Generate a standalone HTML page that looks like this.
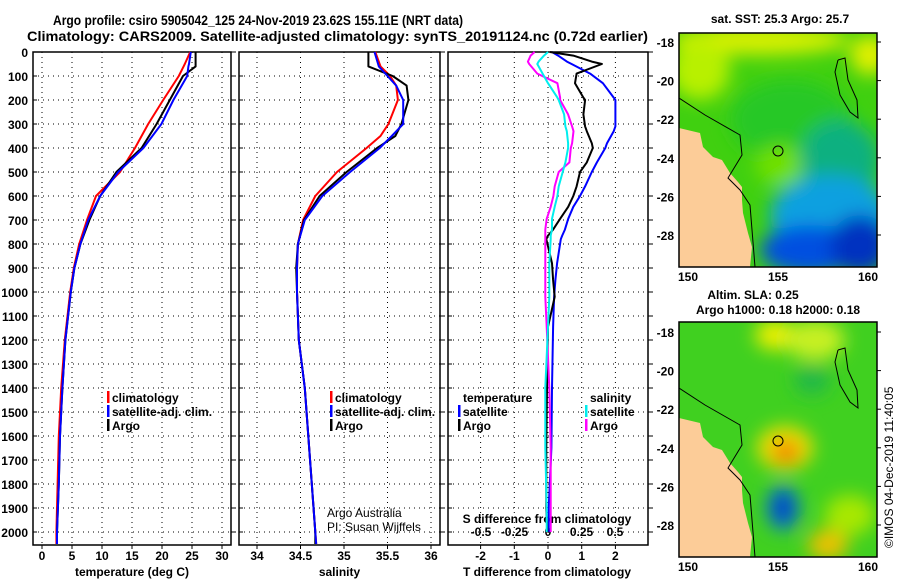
<!DOCTYPE html>
<html><head><meta charset="utf-8">
<style>
body{margin:0;background:#fff;}
svg{display:block;font-family:"Liberation Sans",sans-serif;}
.t{font-weight:bold;font-size:14px;}
.tk{font-weight:bold;font-size:12px;}
</style></head>
<body>
<svg id="fig" width="900" height="580" viewBox="0 0 900 580">
<defs>
<filter id="bl" x="-50%" y="-50%" width="200%" height="200%"><feGaussianBlur stdDeviation="9"/></filter>
<clipPath id="cm1"><rect x="679" y="33" width="198" height="234"/></clipPath>
<clipPath id="cm2"><rect x="679" y="322" width="198" height="235"/></clipPath>
</defs>
<text x="53" y="25" class="t" textLength="410" lengthAdjust="spacingAndGlyphs">Argo profile: csiro 5905042_125 24-Nov-2019 23.62S 155.11E (NRT data)</text>
<text x="27" y="41" class="t" textLength="621" lengthAdjust="spacingAndGlyphs">Climatology: CARS2009. Satellite-adjusted climatology: synTS_20191124.nc (0.72d earlier)</text>
<g id="plots"></g>
<g id="maps"></g>
<text transform="translate(893,548) rotate(-90)" font-size="12">©IMOS 04-Dec-2019 11:40:05</text>
</svg>
<script>
// ---- data ----
const depthT = [0,50,60,100,200,300,400,500,600,700,800,900,1000,1200,1400,1600,1800,2000,2050];
const tempClim = [24.7,23.8,23.6,22.8,20.2,17.7,15.5,13.0,9.0,7.5,6.2,5.3,4.7,3.8,3.2,2.8,2.6,2.4,2.4];
const tempSat  = [24.8,24.5,24.4,24.2,21.9,19.9,16.9,12.7,9.7,7.7,6.4,5.4,4.8,3.9,3.4,3.0,2.8,2.5,2.5];
const tempArgo = [25.6,25.6,25.6,23.5,21.3,19.1,16.6,12.4,9.7,7.9,6.4,5.4,4.8,3.9,3.4,3.0,2.8,2.5,2.5];
const depthS = [0,60,100,140,200,300,350,400,500,600,700,800,900,1000,1200,1400,1600,1800,2000,2050];
const salClim = [35.36,35.42,35.53,35.6,35.62,35.51,35.42,35.26,34.92,34.67,34.53,34.47,34.46,34.46,34.48,34.55,34.59,34.63,34.67,34.68];
const salSat  = [35.35,35.4,35.5,35.6,35.68,35.68,35.55,35.41,35.07,34.75,34.55,34.47,34.46,34.46,34.48,34.55,34.59,34.63,34.67,34.68];
const salArgo = [35.28,35.28,35.56,35.72,35.74,35.66,35.59,35.38,35.03,34.72,34.54,34.47,34.45,34.46,34.48,34.55,34.59,34.63,34.67,34.67];
const depthD = [0,15,40,50,90,130,190,200,260,310,330,380,400,460,500,560,600,645,695,740,765,780,880,950,1020,1145,1400,1650,1900,2000];
const dTSat  = [0.12,0.3,0.56,0.7,1.25,1.63,1.95,2.0,2.0,2.0,1.95,1.75,1.7,1.45,1.3,1.1,0.95,0.75,0.6,0.5,0.42,0.38,0.27,0.22,0.18,0.15,0.12,0.1,0.02,0.02];
const dTArgo = [0.06,0.75,1.3,1.6,0.85,0.8,1.05,1.1,1.05,1.1,1.15,1.3,1.33,1.15,0.95,0.85,0.75,0.6,0.36,0.15,0.0,-0.05,0.12,0.15,0.2,0.0,-0.03,-0.05,-0.05,-0.02];
const dSSat  = [0.0,-0.03,-0.07,-0.08,-0.04,0.0,0.07,0.08,0.12,0.13,0.14,0.15,0.15,0.13,0.11,0.08,0.07,0.05,0.03,0.03,0.02,0.02,0.01,0.01,0.01,0.0,-0.02,-0.02,-0.01,-0.01];
const dSArgo = [-0.1,-0.13,-0.15,-0.14,-0.08,0.07,0.09,0.09,0.15,0.18,0.19,0.18,0.17,0.16,0.08,0.05,0.04,0.02,-0.01,-0.02,-0.02,-0.02,-0.02,-0.02,-0.02,-0.01,0.01,0.02,0.02,0.02];
const depthTicks = [0,100,200,300,400,500,600,700,800,900,1000,1100,1200,1300,1400,1500,1600,1700,1800,1900,2000];
const tTicks = [0,5,10,15,20,25,30];
const sTicks = [34,34.5,35,35.5,36];
const dtTicks = [-2,-1,0,1,2];
const dsTicks = [-0.5,-0.25,0,0.25,0.5];

const NS='http://www.w3.org/2000/svg';
const plots=document.getElementById('plots');
function mk(tag,attrs,parent,text){const e=document.createElementNS(NS,tag);for(const k in attrs)e.setAttribute(k,attrs[k]);if(text!==undefined)e.textContent=text;(parent||plots).appendChild(e);return e;}
const Y=d=>52+d*0.24;
const yTop=52,yBot=545;
const panels=[
 {x0:33,x1:231,fx:v=>42+6*v,ticks:tTicks,label:'temperature (deg C)',name:'temperature'},
 {x0:239,x1:440,fx:v=>257+87*(v-34),ticks:sTicks,label:'salinity',name:'salinity'},
 {x0:448,x1:648,fx:v=>548+33.7*v,ticks:dtTicks,label:'T difference from climatology',name:'difference'}
];
panels.forEach((p,i)=>{
 const g=mk('g',{});
 
 
 depthTicks.forEach(d=>{
  const l=mk('line',{x1:p.x0,x2:p.x1,y1:Y(d),y2:Y(d),stroke:'#000','stroke-width':1,'stroke-dasharray':'1,4'},g);
  
  
  mk('line',{x1:p.x0,x2:p.x0+4,y1:Y(d),y2:Y(d),stroke:'#000'},g);
  mk('line',{x1:p.x1,x2:p.x1+5,y1:Y(d),y2:Y(d),stroke:'#000'},g);
 });
 p.ticks.forEach(v=>{
  const x=p.fx(v);
  const l=mk('line',{x1:x,x2:x,y1:yTop,y2:yBot,stroke:'#000','stroke-dasharray':'1,4'},g);
  
  
  mk('line',{x1:x,x2:x,y1:yBot,y2:yBot+4,stroke:'#000'},g);
  const t=mk('text',{x:x,y:560,'text-anchor':'middle',class:'tk'},g,String(v));
  
  
 });
 const r=mk('rect',{x:p.x0,y:yTop,width:p.x1-p.x0,height:yBot-yTop,fill:'none',stroke:'#000','stroke-width':1.5},g);
 
 
 const lb=mk('text',{x:(p.x0+p.x1)/2+(i==2?-1:0),y:576,'text-anchor':'middle',class:'tk'},g,p.label);
 
 
});
depthTicks.forEach(d=>{
 const t=mk('text',{x:28,y:Y(d)+5,'text-anchor':'end',class:'tk'},plots,String(d));
 
 
});
const fs=v=>548+134*v;
dsTicks.forEach(v=>{
 const t=mk('text',{x:fs(v),y:536,'text-anchor':'middle',class:'tk'},plots,String(v));
 
 
});
const st=mk('text',{x:547,y:523,'text-anchor':'middle',class:'tk'},plots,'S difference from climatology');



function line(ds,vs,fx,col,name,w){
 const pts=ds.map((d,i)=>fx(vs[i]).toFixed(1)+','+Y(Math.min(d,2054)).toFixed(1)).join(' ');
 const pl=mk('polyline',{points:pts,fill:'none',stroke:col,'stroke-width':w||2,'stroke-linejoin':'round'});
 
 
}
const P=panels;
line(depthT,tempClim,P[0].fx,'#f00','temp-climatology-line');
line(depthT,tempArgo,P[0].fx,'#000','temp-argo-line');
line(depthT,tempSat,P[0].fx,'#00f','temp-satellite-line');
line(depthS,salClim,P[1].fx,'#f00','sal-climatology-line');
line(depthS,salArgo,P[1].fx,'#000','sal-argo-line');
line(depthS,salSat,P[1].fx,'#00f','sal-satellite-line');
line(depthD,dTSat,P[2].fx,'#00f','t-diff-satellite-line');
line(depthD,dTArgo,P[2].fx,'#000','t-diff-argo-line');
line(depthD,dSArgo,fs,'#f0f','s-diff-argo-line');
line(depthD,dSSat,fs,'#0ee','s-diff-satellite-line');

function legend(x,y,items,name){
 const g=mk('g',{});
 
 
 items.forEach((it,i)=>{
  if(it[1]) mk('rect',{x:x,y:y+i*14-11,width:2.5,height:12,fill:it[1]},g);
  const t=mk('text',{x:x+5,y:y+i*14,class:'tk'},g,it[0]);
  
  
 });
}
legend(107,402,[['climatology','#f00'],['satellite-adj. clim.','#00f'],['Argo','#000']],'temp-legend');
legend(330,402,[['climatology','#f00'],['satellite-adj. clim.','#00f'],['Argo','#000']],'sal-legend');
legend(458,402,[['temperature',null],['satellite','#00f'],['Argo','#000']],'t-diff-legend');
legend(585,402,[['salinity',null],['satellite','#0ee'],['Argo','#f0f']],'s-diff-legend');
const a1=mk('text',{x:327,y:517,'font-size':12},plots,'Argo Australia');

const a2=mk('text',{x:327,y:531,'font-size':12},plots,'PI: Susan Wijffels');


// ---- maps ----
const maps=document.getElementById('maps');
const lonTicks=[150,155,160];
const latTicks=[-18,-20,-22,-24,-26,-28];
const coast=[[679,128],[700,133],[703,147],[713,157],[722,160],[730,173],[738,182],[742,187],[742,200],[743,213],[748,233],[752,247],[750,267]];
function map(t0,b0,dy,latTop,clip,title,blobs,base,name){
 const g=mk('g',{},maps);
 
 
 const cg=mk('g',{'clip-path':'url(#'+clip+')'},g);
 mk('rect',{x:679,y:t0,width:198,height:b0-t0,fill:base},cg);
 const bg=mk('g',{filter:'url(#bl)'},cg);
 blobs.forEach(b=>mk('ellipse',{cx:b[0],cy:b[1]+dy,rx:b[2],ry:b[3],fill:b[4]},bg));
 const pts=coast.map(c=>c[0]+','+(c[1]+dy+(c[1]==267?(b0-267-dy):0))).join(' ')+' 679,'+b0;
 const land=mk('polygon',{points:pts,fill:'#fccc98'},cg);
 
 
 mk('polyline',{points:'679,98 705,115 740,135 742,155 728,178 740,190 750,205 755,267 755,290',transform:'translate(0,'+dy+')',fill:'none',stroke:'#000','stroke-width':1},cg);
 mk('polyline',{points:'838,60 845,58 848,80 857,100 858,118 850,112 840,95 835,72 838,60',transform:'translate(0,'+dy+')',fill:'none',stroke:'#000','stroke-width':1},cg);
 const m=mk('circle',{cx:778,cy:151+dy,r:5,fill:'none',stroke:'#000'},g);
 
 
 mk('rect',{x:679,y:t0,width:198,height:b0-t0,fill:'none',stroke:'#000','stroke-width':1.5},g);
 lonTicks.forEach(v=>{
  const x=688+18*(v-150);
  const t=mk('text',{x:x,y:b0+14,'text-anchor':'middle',class:'tk'},g,String(v));
  
  
 });
 latTicks.forEach(v=>{
  const y=latTop+19.3*(-18-v);
  mk('line',{x1:877,x2:881,y1:y,y2:y,stroke:'#000'},g);
  const t=mk('text',{x:674,y:y+5,'text-anchor':'end',class:'tk'},g,String(v));
  
  
 });
 title.forEach(s=>{
  const t=mk('text',{x:s[1],y:s[2],'text-anchor':'middle',class:'tk'},g,s[0]);
  
  
 });
}
map(33,267,0,42,'cm1',[['sat. SST: 25.3 Argo: 25.7',780,23]],
 [[760,40,90,15,'#d8f000'],[700,70,30,30,'#b8f000'],[870,55,20,20,'#e0f000'],[790,120,60,40,'#28c828'],[780,165,25,20,'#70e000'],
  [840,160,40,40,'#10b080'],[830,215,60,40,'#10a0e0'],[810,250,50,25,'#0050e0'],[860,245,30,30,'#0030c0']],'#40d010','sst-map');
map(322,557,290,332,'cm2',[['Altim. SLA: 0.25',753,299],['Argo h1000: 0.18 h2000: 0.18',778,314]],
 [[775,45,20,15,'#f0f000'],[815,50,30,20,'#c8f020'],[785,158,28,22,'#f0e000'],[786,162,14,12,'#f08000'],
  [783,218,16,22,'#0070e0'],[783,218,10,14,'#0040c0'],[828,255,20,15,'#f0c000'],[850,225,25,20,'#a8e800'],[812,90,18,15,'#20b848']],'#40d020','sla-map');
</script>
</body></html>
